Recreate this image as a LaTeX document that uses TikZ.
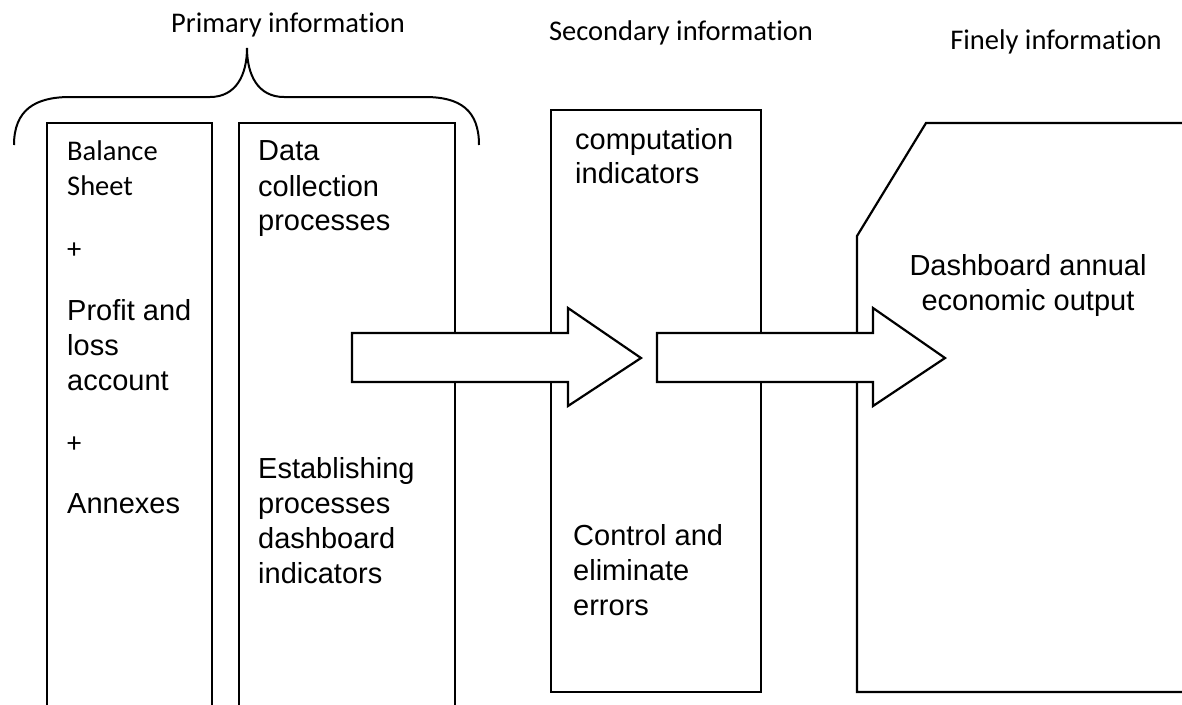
\documentclass[tikz,border=0pt]{standalone}
\usepackage{fontspec}
\setmainfont{Liberation Sans}
\newfontfamily\calibrifont[Ligatures={NoCommon,NoRequired}]{Carlito}
\newcommand\brk{\kern0pt\relax}
\begin{document}
\begin{tikzpicture}[x=1pt,y=-1pt,
  ar/.style={font=\fontsize{29}{35}\selectfont, anchor=base west, inner sep=0pt},
  arc/.style={font=\fontsize{29}{35}\selectfont, anchor=base, inner sep=0pt},
  ca/.style={font=\calibrifont\fontsize{28.5}{35}\selectfont, anchor=base west, inner sep=0pt},
  cac/.style={font=\calibrifont\fontsize{28.5}{35}\selectfont, anchor=base, inner sep=0pt},
  outline/.style={draw=black, line width=2.2pt, line join=miter},
  brace/.style={draw=black, line width=2pt},
  blockarrow/.style={draw=black, fill=white, line width=2.2pt, line join=miter}]
\useasboundingbox (0,0) rectangle (1182,704);

% headings
\node[cac] (prim) at (288,32) {Primary informat\brk ion};
\node[cac] (sec) at (681,40) {Secondary informat\brk ion};
\node[cac] (fin) at (1056,49) {Finely informat\brk ion};

% brace
\draw[brace] (14,145) .. controls (14,110) and (35,97) .. (70,97)
  -- (210,97) .. controls (236,97) and (247,75) .. (247,48)
  .. controls (247,75) and (258,97) .. (284,97)
  -- (425,97) .. controls (460,97) and (479,110) .. (479,145);

% boxes
\draw[outline] (47,708) -- (47,123) -- (212,123) -- (212,708);
\draw[outline] (239,708) -- (239,123) -- (455,123) -- (455,708);
\draw[outline] (551,110) rectangle (761,692);
\draw[outline] (1186,123) -- (926,123) -- (857,236) -- (857,692) -- (1186,692);

% box 1 texts
\node[ca] (bal) at (67,160) {Balance};
\node[ca] (sheet) at (67,195) {Sheet};
\node[ca] (plus1) at (67,258) {+};
\node[ar] (profit) at (67,320) {Profit and};
\node[ar] (loss) at (67,355) {loss};
\node[ar] (account) at (67,390) {account};
\node[ca] (plus2) at (67,452) {+};
\node[ar] (annex) at (67,513) {Annexes};

% box 2 texts
\node[ar] (data) at (258,160) {Data};
\node[ar] (coll) at (258,196) {collection};
\node[ar] (proc1) at (258,230) {processes};
\node[ar] (estab) at (258,478) {Establishing};
\node[ar] (proc2) at (258,513) {processes};
\node[ar] (dash) at (258,548) {dashboard};
\node[ar] (ind1) at (258,583) {indicators};

% box 3 texts
\node[ar] (comp) at (575,149) {computation};
\node[ar] (ind2) at (575,183) {indicators};
\node[ar] (ctrl) at (573,545) {Control and};
\node[ar] (elim) at (573,580) {eliminate};
\node[ar] (err) at (573,615) {errors};

% box 4 texts
\node[arc] (dsh) at (1028,275) {Dashboard annual};
\node[arc] (eco) at (1028,310) {economic output};

% block arrows
\draw[blockarrow] (352,333) -- (568,333) -- (568,308) -- (641,358) -- (568,406) -- (568,382) -- (352,382) -- cycle;
\draw[blockarrow] (657,333) -- (873,333) -- (873,308) -- (945,358) -- (873,406) -- (873,382) -- (657,382) -- cycle;
\end{tikzpicture}
\end{document}
